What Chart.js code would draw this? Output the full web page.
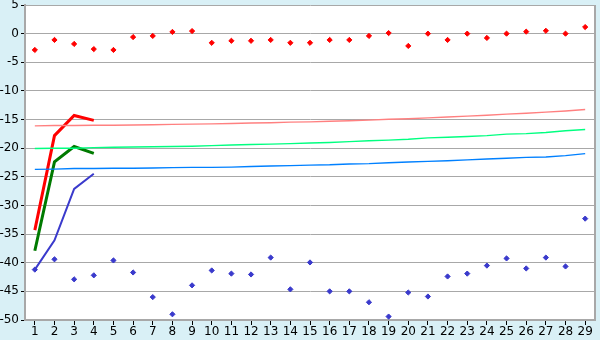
<!DOCTYPE html>
<html>
<head>
<meta charset="utf-8">
<script src="https://cdn.jsdelivr.net/npm/chart.js@4/dist/chart.umd.min.js"></script>
<style>
  body { margin: 0; background: #d9f0f6; }
  #wrap { width: 600px; height: 340px; }
</style>
</head>
<body>
<div id="wrap"><canvas id="myChart" width="600" height="340"></canvas></div>
<script>
const labels = ['1','2','3','4','5','6','7','8','9','10','11','12','13','14','15','16','17','18','19','20','21','22','23','24','25','26','27','28','29'];

const redPoints = [-2.85, -1.1, -1.8, -2.7, -2.85, -0.6, -0.4, 0.3, 0.45, -1.6, -1.25, -1.25, -1.1, -1.6, -1.6, -1.1, -1.1, -0.4, 0.1,
  -2.15, 0, -1.1, 0, -0.75, 0, 0.35, 0.5, 0, 1.15];
const bluePoints = [-41.2, -39.4, -42.9, -42.2, -39.6, -41.7, -46.0, -49.0, -43.95, -41.35, -41.9, -42.05, -39.1, -44.65, -39.95,
  -45.0, -45.0, -46.9, -49.4, -45.2, -45.9, -42.4, -41.9, -40.5, -39.25, -41.0, -39.1, -40.65, -32.3];

const redLine = [-34.3, -17.8, -14.3, -15.15];
const greenLine = [-37.9, -22.4, -19.7, -20.9];
const blueLine = [-41.2, -36.1, -27.1, -24.45];

const pinkTrend = [-16.1, -16.05, -16.05, -16.0, -16.0, -15.95, -15.9, -15.85, -15.8, -15.75, -15.7, -15.6, -15.55, -15.45, -15.4,
  -15.3, -15.2, -15.1, -14.95, -14.85, -14.7, -14.55, -14.4, -14.25, -14.05, -13.9, -13.7, -13.5, -13.25];
const greenTrend = [-20.05, -20.0, -20.0, -19.9, -19.85, -19.8, -19.75, -19.7, -19.65, -19.55, -19.45, -19.35, -19.3, -19.2, -19.1,
  -19.0, -18.85, -18.7, -18.6, -18.45, -18.2, -18.1, -17.95, -17.8, -17.55, -17.45, -17.25, -16.95, -16.75];
const blueTrend = [-23.7, -23.65, -23.55, -23.55, -23.5, -23.5, -23.45, -23.4, -23.35, -23.35, -23.3, -23.2, -23.1, -23.05, -22.95,
  -22.9, -22.75, -22.7, -22.55, -22.4, -22.3, -22.2, -22.05, -21.9, -21.75, -21.6, -21.55, -21.3, -20.95];

const yTicks = [5, 0, -5, -10, -15, -20, -25, -30, -35, -40, -45, -50];

// white plot area + grey frame on the right
const plotBg = {
  id: 'plotBg',
  beforeDraw(chart) {
    const { ctx, chartArea: a } = chart;
    ctx.save();
    ctx.fillStyle = '#ffffff';
    ctx.fillRect(a.left, a.top, a.right - a.left, a.bottom - a.top);
    ctx.restore();
  },
  afterDraw(chart) {
    const { ctx, chartArea: a } = chart;
    ctx.save();
    ctx.strokeStyle = '#a8a8a8';
    ctx.lineWidth = 2;
    ctx.beginPath();
    ctx.moveTo(a.right, a.top);
    ctx.lineTo(a.right, a.bottom);
    ctx.stroke();
    ctx.restore();
  }
};

function line(data, color, width) {
  return { data: data, borderColor: color, borderWidth: width, pointRadius: 0, fill: false, tension: 0 };
}
function dots(data, color) {
  return { data: data, showLine: false, pointStyle: 'rectRot', pointRadius: 2.6, pointBorderWidth: 1,
    pointBackgroundColor: color, pointBorderColor: color, borderColor: color };
}

const config = {
  type: 'line',
  data: {
    labels: labels,
    datasets: [
      line(pinkTrend, '#ff8080', 1.4),
      line(greenTrend, '#00ff80', 1.4),
      line(blueTrend, '#0080ff', 1.4),
      line(blueLine, '#3a3acc', 2),
      line(greenLine, '#007a00', 3),
      line(redLine, '#ff0000', 3),
      dots(redPoints, '#ff0000'),
      dots(bluePoints, '#3a3acc')
    ]
  },
  options: {
    responsive: false,
    animation: false,
    layout: { padding: { top: 5, right: 5, left: 0, bottom: 0 } },
    plugins: { legend: { display: false }, tooltip: { enabled: false } },
    scales: {
      x: {
        offset: true,
        grid: { offset: false, drawOnChartArea: false, drawTicks: true, tickLength: 5, color: '#000000' },
        border: { color: '#a8a8a8', width: 2 },
        ticks: { color: '#000', font: { family: 'DejaVu Sans', size: 12 }, padding: 0, maxRotation: 0, autoSkip: false },
        afterFit(s) { s.height = 20; s.paddingLeft = 0; s.paddingRight = 0; }
      },
      y: {
        min: -50, max: 5,
        afterBuildTicks(s) { s.ticks = yTicks.map(v => ({ value: v })); },
        grid: { color: '#a8a8a8', lineWidth: 1, tickLength: 4, tickColor: '#000000' },
        border: { color: '#a8a8a8', width: 2 },
        ticks: { color: '#000', font: { family: 'DejaVu Sans', size: 12 }, padding: 2 },
        afterFit(s) { s.width = 25; s.paddingTop = 0; s.paddingBottom = 0; }
      }
    }
  },
  plugins: [plotBg]
};

new Chart(document.getElementById('myChart'), config);
</script>
</body>
</html>
